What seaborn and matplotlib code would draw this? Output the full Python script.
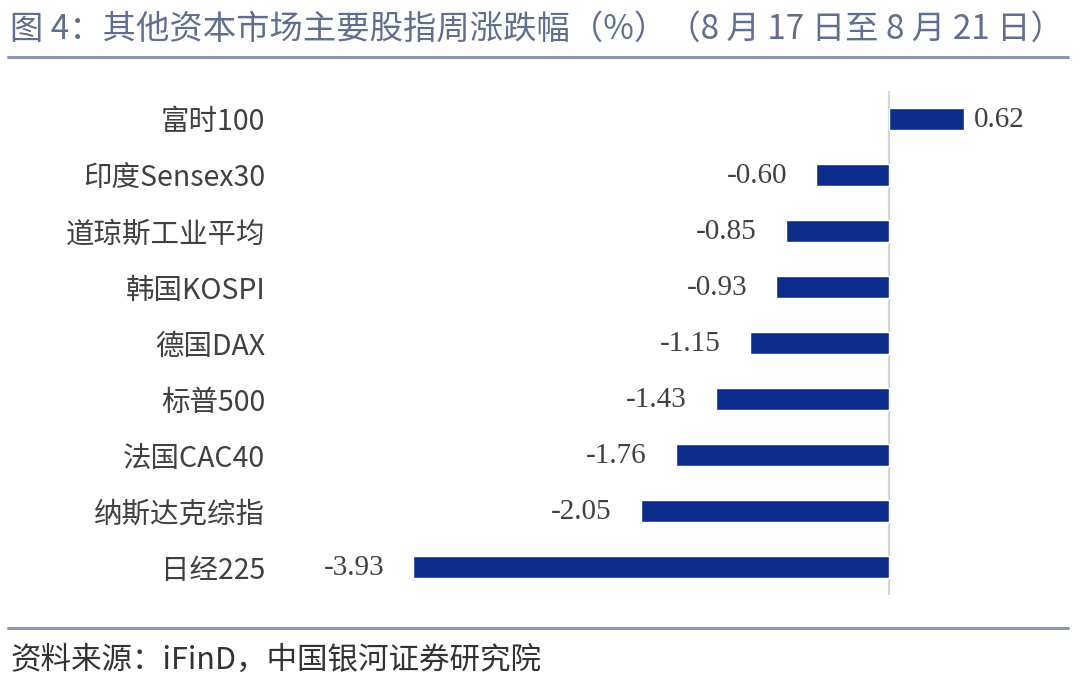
import numpy as np
import pandas as pd
import matplotlib
matplotlib.use("Agg")
import matplotlib.pyplot as plt
import seaborn as sns

# data
indices = ["富时100", "印度Sensex30", "道琼斯工业平均", "韩国KOSPI", "德国DAX",
           "标普500", "法国CAC40", "纳斯达克综指", "日经225"]
weekly_change = [0.62, -0.60, -0.85, -0.93, -1.15, -1.43, -1.76, -2.05, -3.93]

title = "图 4：其他资本市场主要股指周涨跌幅（%）（8 月 17 日至 8 月 21 日）"
source = "资料来源：iFinD，中国银河证券研究院"

sns.set_theme(style="white")
plt.rcParams["font.family"] = ["Noto Sans CJK SC", "DejaVu Sans"]

df = pd.DataFrame({"index": indices, "change": weekly_change})

bar_color = "#0c2d8c"
text_color = "#404040"
title_color = "#5f6f90"
rule_color = "#8a98b6"
num_font = ["Liberation Serif", "DejaVu Serif"]

fig = plt.figure(figsize=(10.8, 6.93), dpi=100, facecolor="white")
ax = fig.add_axes([0.27, 0.1414, 0.71, 0.7273])

sns.barplot(data=df, x="change", y="index", orient="h", color=bar_color,
            width=0.4, saturation=1, ax=ax)

ax.set_xlim(-4.937, 1.40)
ax.set_ylim(8.5, -0.5)
ax.axvline(0, color="#d4d6da", lw=1.6, zorder=0)

for s in ax.spines.values():
    s.set_visible(False)
ax.set_xticks([])
ax.set_xlabel("")
ax.set_ylabel("")
ax.tick_params(axis="y", length=0, pad=19, labelsize=20.5, labelcolor=text_color)

for i, v in enumerate(weekly_change):
    if v >= 0:
        ax.annotate(f"{v:.2f}", (v, i), xytext=(7, -1), textcoords="offset points",
                    ha="left", va="center", fontsize=21, color=text_color,
                    family=num_font)
    else:
        ax.annotate(f"{v:.2f}", (v, i), xytext=(-21, -1), textcoords="offset points",
                    ha="right", va="center", fontsize=21, color=text_color,
                    family=num_font)

fig.text(10 / 1080, 1 - 29 / 693, title, ha="left", va="center",
         fontsize=24, color=title_color)
fig.add_artist(plt.Line2D([8 / 1080, 1068 / 1080], [1 - 57 / 693, 1 - 57 / 693],
                          color=rule_color, lw=2.2, transform=fig.transFigure))
fig.add_artist(plt.Line2D([8 / 1080, 1068 / 1080], [1 - 628 / 693, 1 - 628 / 693],
                          color=rule_color, lw=2.2, transform=fig.transFigure))
fig.text(10 / 1080, 1 - 660 / 693, source, ha="left", va="center",
         fontsize=22, color="#333333", style="italic")

fig.savefig("out.png", dpi=100, facecolor="white")
